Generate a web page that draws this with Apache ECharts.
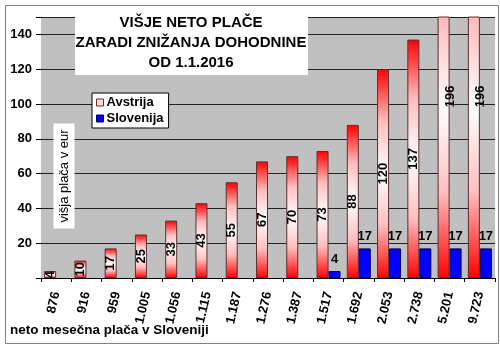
<!DOCTYPE html>
<html>
<head>
<meta charset="utf-8">
<script src="https://cdn.jsdelivr.net/npm/echarts@6/dist/echarts.min.js"></script>
<style>html,body{margin:0;padding:0;background:#fff}#c{width:500px;height:345px}</style>
</head>
<body>
<div id="c"></div>
<script>
var categories = ['876','916','959','1.005','1.056','1.115','1.187','1.276','1.387','1.517','1.692','2.053','2.738','5.201','9.723'];
var avstrija = [4,10,17,25,33,43,55,67,70,73,88,120,137,196,196];
var slovenija = [null,null,null,null,null,null,null,null,null,4,17,17,17,17,17];
var yTicks = [20,40,60,80,100,120,140];
var Y_MAX = 150;
var FONT = 'Arial, "Liberation Sans", sans-serif';

var stops = [[0,[255,0,0]],[0.25,[255,190,190]],[0.5,[255,255,255]],[0.75,[255,190,190]],[1,[255,0,0]]];
function sample(t){
  for (var i=0;i<stops.length-1;i++){
    var a=stops[i], b=stops[i+1];
    if (t>=a[0] && t<=b[0]){
      var f=(t-a[0])/(b[0]-a[0]);
      var c=a[1].map(function(v,k){return Math.round(v+(b[1][k]-v)*f);});
      return 'rgb('+c.join(',')+')';
    }
  }
  return 'rgb(255,0,0)';
}
function rgb(c){return 'rgb('+c.join(',')+')';}
function gradFor(v){
  if (v <= Y_MAX){
    return new echarts.graphic.LinearGradient(0,0,0,1, stops.map(function(s){return {offset:s[0], color:rgb(s[1])};}));
  }
  var f = Y_MAX / v, t0 = 1 - f;
  var cs = [{offset:0, color:sample(t0)}];
  stops.forEach(function(s){ if (s[0] > t0) cs.push({offset:(s[0]-t0)/f, color:rgb(s[1])}); });
  return new echarts.graphic.LinearGradient(0,0,0,1, cs);
}
var avData = avstrija.map(function(v){
  var item = {value:v, itemStyle:{color:gradFor(v)}};
  if (v > Y_MAX){
    var pct = ((Y_MAX - v/2) / Y_MAX * 100).toFixed(1) + '%';
    item.label = {position:['50%', pct]};
  }
  return item;
});

var chart = echarts.init(document.getElementById('c'), null, {renderer:'canvas'});
chart.setOption({
  animation:false,
  backgroundColor:'#ffffff',
  textStyle:{fontFamily:FONT},
  grid:{left:41, right:5, top:17, bottom:67, show:true, backgroundColor:'#c0c0c0', borderWidth:0},
  legend:{
    orient:'vertical', left:92, top:93, itemWidth:7, itemHeight:7, itemGap:3,
    backgroundColor:'#ffffff', borderColor:'#000', borderWidth:1, padding:[3,5,3,4],
    textStyle:{fontFamily:FONT, fontWeight:'bold', fontSize:13, color:'#000', padding:[0,0,0,-2]},
    data:[
      {name:'Avstrija', icon:'rect', itemStyle:{color:'#ffe4e4', borderColor:'#802020', borderWidth:1}},
      {name:'Slovenija', icon:'rect', itemStyle:{color:'#0000ff', borderColor:'#000060', borderWidth:1}}
    ],
    z:20
  },
  xAxis:{
    type:'category', data:categories,
    axisLine:{show:true, lineStyle:{color:'#000', width:1}},
    axisTick:{show:true, alignWithLabel:false, length:4, lineStyle:{color:'#000'}},
    axisLabel:{rotate:77, fontFamily:FONT, fontWeight:'bold', fontSize:13, color:'#000', margin:14, interval:0},
    splitLine:{show:false}
  },
  yAxis:{
    type:'value', min:0, max:Y_MAX, interval:20,
    axisLine:{show:false},
    axisTick:{show:true, length:5, lineStyle:{color:'#000'}},
    axisLabel:{fontFamily:FONT, fontWeight:'bold', fontSize:13, color:'#000', margin:9,
      formatter:function(v){return yTicks.indexOf(v) >= 0 ? String(v) : '';}},
    splitLine:{show:true, lineStyle:{color:'#222', width:1}}
  },
  series:[
    {
      name:'Avstrija', type:'bar', data:avData, barWidth:12, barGap:'0%',
      itemStyle:{color:'#ff0000', borderColor:'#5a3030', borderWidth:1},
      label:{show:true, position:'inside', rotate:90, fontFamily:FONT, fontWeight:'bold', fontSize:13, color:'#000'},
      z:3
    },
    {
      name:'Slovenija', type:'bar', data:slovenija, barWidth:12, barGap:'0%',
      itemStyle:{color:'#0000ff', borderColor:'#000050', borderWidth:1},
      label:{show:true, position:'top', distance:5, fontFamily:FONT, fontWeight:'bold', fontSize:13, color:'#000'},
      z:3
    }
  ],
  graphic:[
    {type:'rect', left:3, top:3, shape:{width:493, height:338}, style:{fill:null, stroke:'#808080', lineWidth:1}, z:1, silent:true},
    {type:'rect', left:75, top:16, shape:{width:233, height:59}, style:{fill:'#ffffff'}, z:10},
    {type:'text', x:191, y:13, z:11, style:{text:'VIŠJE NETO PLAČE\nZARADI ZNIŽANJA DOHODNINE\nOD 1.1.2016', fill:'#000', font:'bold 15px '+FONT, textAlign:'center', textVerticalAlign:'top', lineHeight:20}},
    {type:'text', x:64, y:176, rotation:Math.PI/2, z:11, style:{text:'višja plača v eur', fill:'#000', font:'13px '+FONT, textAlign:'center', textVerticalAlign:'middle', backgroundColor:'#ffffff', padding:[4,6,4,6]}},
    {type:'text', x:10, y:330, z:11, style:{text:'neto mesečna plača v Sloveniji', fill:'#000', font:'bold 13.5px '+FONT, textAlign:'left', textVerticalAlign:'middle'}}
  ]
});
</script>
</body>
</html>
